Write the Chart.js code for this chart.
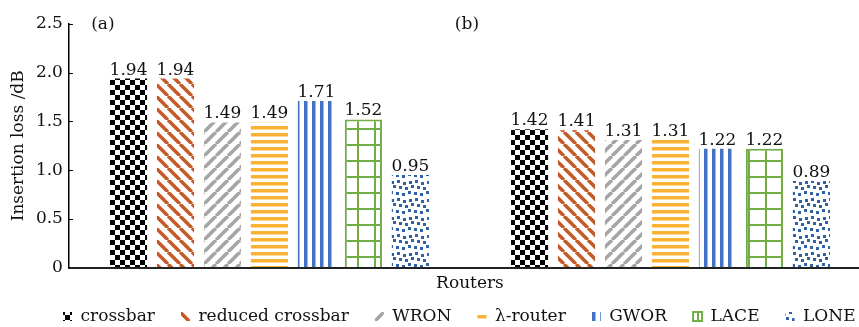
<!DOCTYPE html>
<html>
<head>
<meta charset="utf-8">
<script src="https://cdn.jsdelivr.net/npm/chart.js@4"></script>
<style>
    html, body { margin: 0; padding: 0; background: #fff; overflow: hidden; }
    #wrap { width: 871px; height: 327px; }
</style>
</head>
<body>
<div id="wrap"><canvas id="loss-chart"></canvas></div>
<script>
const groups = ["(a)", "(b)"];
const routers = ["crossbar", "reduced crossbar", "WRON", "\u03bb-router", "GWOR", "LACE", "LONE"];
const lossA = [1.94, 1.94, 1.49, 1.49, 1.71, 1.52, 0.95];
const lossB = [1.42, 1.41, 1.31, 1.31, 1.22, 1.22, 0.89];
const yMin = 0;
const yMax = 2.5;
const yStep = 0.5;

const FONT = "'DejaVu Serif', 'Liberation Serif', serif";

function makePattern(w, h, draw) {
    const c = document.createElement("canvas");
    c.width = w;
    c.height = h;
    const g = c.getContext("2d");
    g.fillStyle = "#fff";
    g.fillRect(0, 0, w, h);
    draw(g, w, h);
    return g.createPattern(c, "repeat");
}

function diagonal(color, size, lw, down) {
    return makePattern(size, size, (g, w, h) => {
        g.strokeStyle = color;
        g.lineWidth = lw;
        for (const o of [-w, 0, w]) {
            g.beginPath();
            if (down) { g.moveTo(o, 0); g.lineTo(o + w, h); }
            else { g.moveTo(o, h); g.lineTo(o + w, 0); }
            g.stroke();
        }
    });
}

const checker = makePattern(10, 10, g => {
    g.fillStyle = "#000";
    g.fillRect(0, 0, 5, 5);
    g.fillRect(5, 5, 5, 5);
});
const hStripes = makePattern(8, 7, g => {
    g.fillStyle = "#F9B233";
    g.fillRect(0, 0, 8, 3.5);
});
const vStripes = makePattern(8, 8, g => {
    g.fillStyle = "#4472C4";
    g.fillRect(0, 0, 3.5, 8);
});
const grid = makePattern(17, 16, g => {
    g.fillStyle = "#70AD47";
    g.fillRect(0, 0, 2, 16);
    g.fillRect(0, 0, 17, 2);
});
const dots = makePattern(18, 18, g => {
    g.fillStyle = "#2F62A6";
    [[1, 0], [7, 2], [13, 1], [3, 6], [9, 7], [15, 5], [0, 12], [6, 13], [12, 11]]
        .forEach(p => g.fillRect(p[0], p[1], 3, 3));
});

const fills = [
    checker,
    diagonal("#C55A28", 12, 3.5, true),
    diagonal("#A6A6A6", 12, 3.5, false),
    hStripes,
    vStripes,
    grid,
    dots
];

// value labels over bars, (a)/(b) marks, inward y ticks
const decorations = {
    id: "decorations",
    afterDatasetsDraw(chart) {
        const ctx = chart.ctx;
        const area = chart.chartArea;
        ctx.save();
        ctx.fillStyle = "#111";
        ctx.font = "17px " + FONT;
        ctx.textAlign = "center";
        ctx.textBaseline = "alphabetic";
        chart.data.datasets.forEach((ds, i) => {
            chart.getDatasetMeta(i).data.forEach((bar, j) => {
                ctx.fillText(ds.data[j].toFixed(2), bar.x, bar.y - 4);
            });
        });
        ctx.textBaseline = "middle";
        ctx.fillText(groups[0], area.left + 34, 25);
        ctx.fillText(groups[1], area.left + 398, 25);

        const y = chart.scales.y;
        ctx.strokeStyle = "#000";
        ctx.lineWidth = 1;
        y.ticks.forEach(t => {
            if (t.value === 0) return;
            const py = Math.round(y.getPixelForValue(t.value)) + 0.5;
            ctx.beginPath();
            ctx.moveTo(area.left, py);
            ctx.lineTo(area.left + 4, py);
            ctx.stroke();
        });
        ctx.restore();
    }
};

const legendShift = {
    id: "legendShift",
    afterLayout(chart) {
        const lg = chart.legend;
        const pad = lg.options.labels.padding;
        lg.left = 63 - pad;
        lg.right = lg.left + lg.width;
        lg.top = 308 - pad;
    }
};

const lossChart = new Chart(document.getElementById("loss-chart").getContext("2d"), {
    type: "bar",
    data: {
        labels: groups,
        datasets: routers.map((name, i) => ({
            label: name,
            data: [lossA[i], lossB[i]],
            backgroundColor: fills[i],
            borderColor: i === 5 ? "#70AD47" : "rgba(0,0,0,0)",
            borderWidth: i === 5 ? 2 : 0,
            categoryPercentage: 0.82,
            barPercentage: 0.79
        }))
    },
    options: {
        responsive: true,
        maintainAspectRatio: false,
        animation: false,
        layout: {
            padding: { top: 24, right: 0, left: 0, bottom: 0 }
        },
        plugins: {
            tooltip: { enabled: false },
            legend: {
                position: "bottom",
                align: "start",
                maxHeight: 29,
                labels: {
                    boxWidth: 9,
                    boxHeight: 9,
                    padding: 26,
                    color: "#111",
                    font: { family: FONT, size: 17 }
                }
            }
        },
        scales: {
            x: {
                ticks: { display: false },
                grid: { display: false, drawTicks: false },
                border: { display: true, color: "#222", width: 2 },
                title: {
                    display: true,
                    text: "Routers",
                    color: "#111",
                    font: { family: FONT, size: 17 },
                    padding: { top: 6, bottom: 4 }
                }
            },
            y: {
                min: yMin,
                max: yMax,
                ticks: {
                    stepSize: yStep,
                    padding: 6,
                    color: "#111",
                    font: { family: FONT, size: 17 },
                    callback: v => v === 0 ? "0" : v.toFixed(1)
                },
                grid: { drawOnChartArea: false, drawTicks: false },
                border: { display: true, color: "#000", width: 1.5 },
                title: {
                    display: true,
                    text: "Insertion loss /dB",
                    color: "#111",
                    font: { family: FONT, size: 17 },
                    padding: { top: 8, bottom: 1.5 }
                }
            }
        }
    },
    plugins: [decorations, legendShift]
});
</script>
</body>
</html>
